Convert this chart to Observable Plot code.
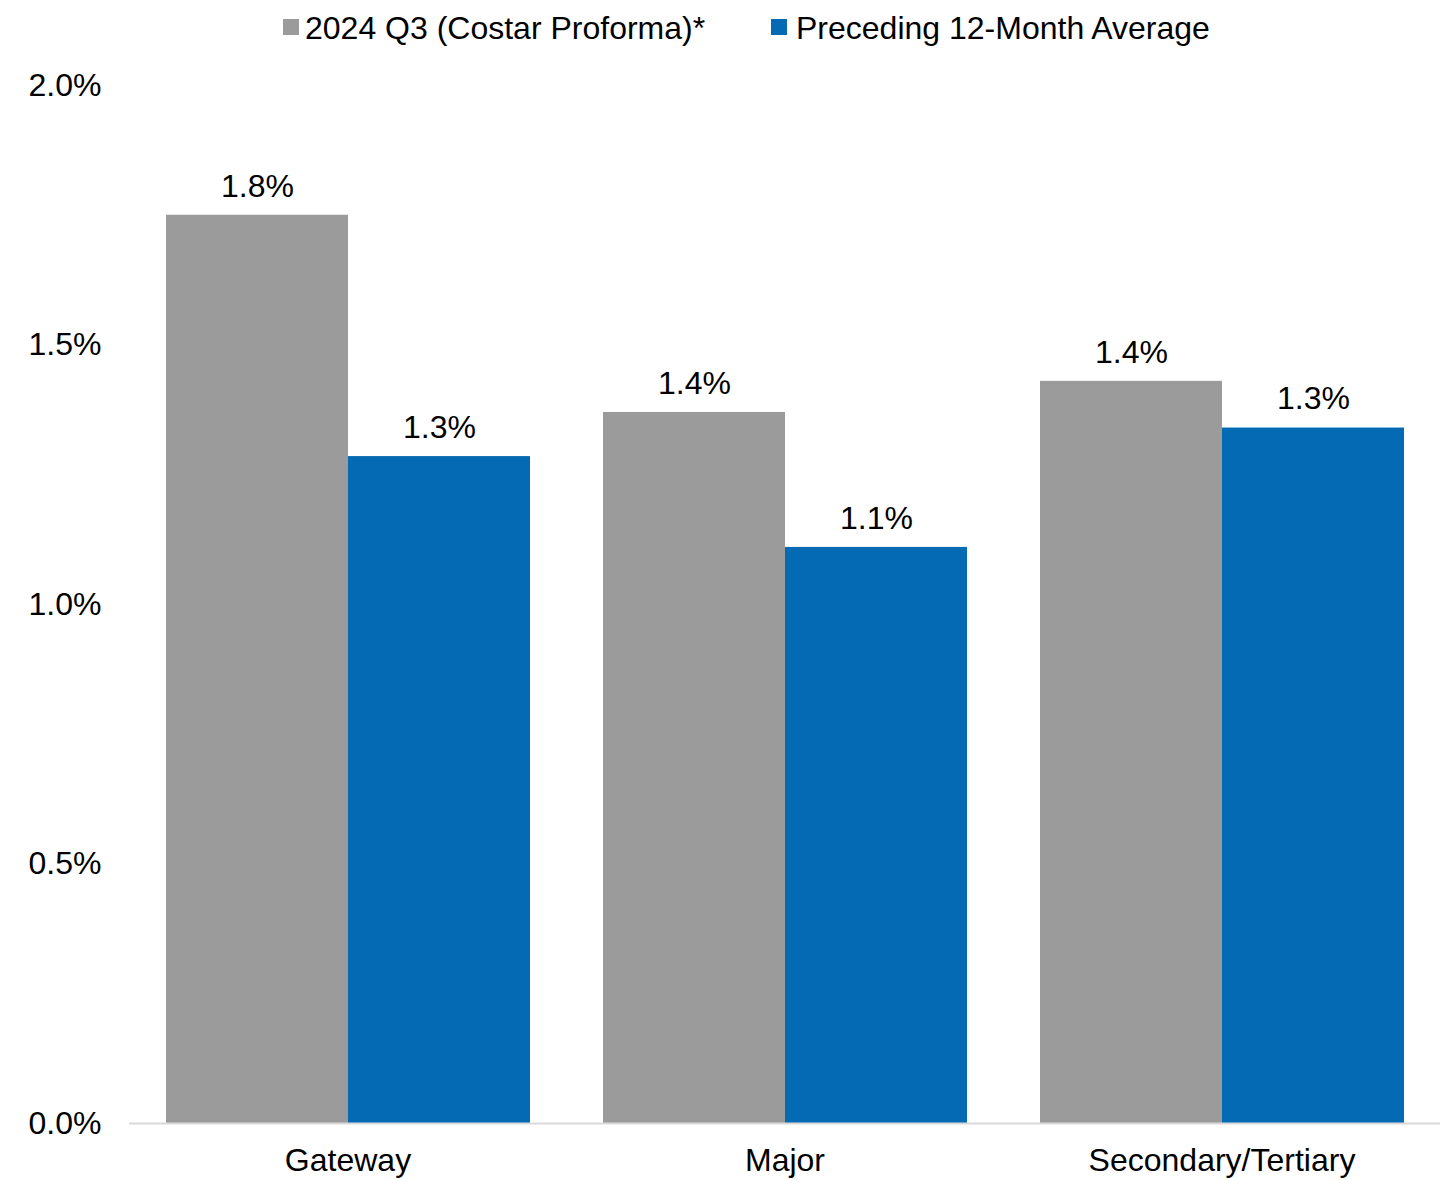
<!DOCTYPE html>
<html>
<head>
<meta charset="utf-8">
<script src="https://cdn.jsdelivr.net/npm/d3@7"></script>
<script src="https://cdn.jsdelivr.net/npm/@observablehq/plot@0.6"></script>
<style>
  html, body { margin: 0; padding: 0; background: #fff; }
  body { width: 1454px; height: 1180px; overflow: hidden; font-family: "Liberation Sans", Arial, sans-serif; }
  #legend { position: relative; width: 1454px; height: 56px; }
  .sw { position: absolute; width: 16px; height: 16px; top: 19px; }
  .lt { position: absolute; top: 8px; font-size: 32px; line-height: 40px; color: #000; white-space: nowrap; }
</style>
</head>
<body>
<div id="legend"></div>
<div id="chart"></div>
<script>
const categories = ["Gateway", "Major", "Secondary/Tertiary"];
const seriesNames = ["2024 Q3 (Costar Proforma)*", "Preceding 12-Month Average"];
const seriesColors = ["#9b9b9b", "#046ab4"];
const q3Values = [1.75, 1.37, 1.43];
const avgValues = [1.285, 1.11, 1.34];
const yTicks = [0, 0.5, 1.0, 1.5, 2.0];

const data = [];
categories.forEach((c, i) => {
  data.push({category: c, series: seriesNames[0], value: q3Values[i]});
  data.push({category: c, series: seriesNames[1], value: avgValues[i]});
});

// Legend
const legend = document.getElementById("legend");
const legendPos = [{sw: 283, tx: 305}, {sw: 771, tx: 796}];
seriesNames.forEach((s, i) => {
  const sw = document.createElement("div");
  sw.className = "sw";
  sw.style.left = legendPos[i].sw + "px";
  sw.style.background = seriesColors[i];
  legend.appendChild(sw);
  const t = document.createElement("div");
  t.className = "lt";
  t.style.left = legendPos[i].tx + "px";
  t.textContent = s;
  legend.appendChild(t);
});

const chart = Plot.plot({
  width: 1454,
  height: 1124,
  marginTop: 29,
  marginBottom: 57,
  marginLeft: 128,
  marginRight: 14,
  style: {fontFamily: "'Liberation Sans', Arial, sans-serif", fontSize: "32px", color: "#000", background: "#fff"},
  fx: {domain: categories, padding: 0, label: null, axis: "bottom", tickSize: 0, tickPadding: 25},
  x: {domain: seriesNames, paddingInner: 0, paddingOuter: 0.195, axis: null},
  y: {domain: [0, 2], ticks: yTicks, tickFormat: d => d.toFixed(1) + "%", label: null, tickSize: 0, tickPadding: 28},
  color: {domain: seriesNames, range: seriesColors},
  marks: [
    Plot.barY(data, {fx: "category", x: "series", y: "value", fill: "series"}),
    Plot.ruleY([0], {stroke: "#d9d9d9", strokeWidth: 2}),
    Plot.text(data, {fx: "category", x: "series", y: "value", text: d => d3.format(".1f")(d.value) + "%", dy: -29, fill: "#000", fontSize: 32})
  ]
});
document.getElementById("chart").appendChild(chart);
</script>
</body>
</html>
